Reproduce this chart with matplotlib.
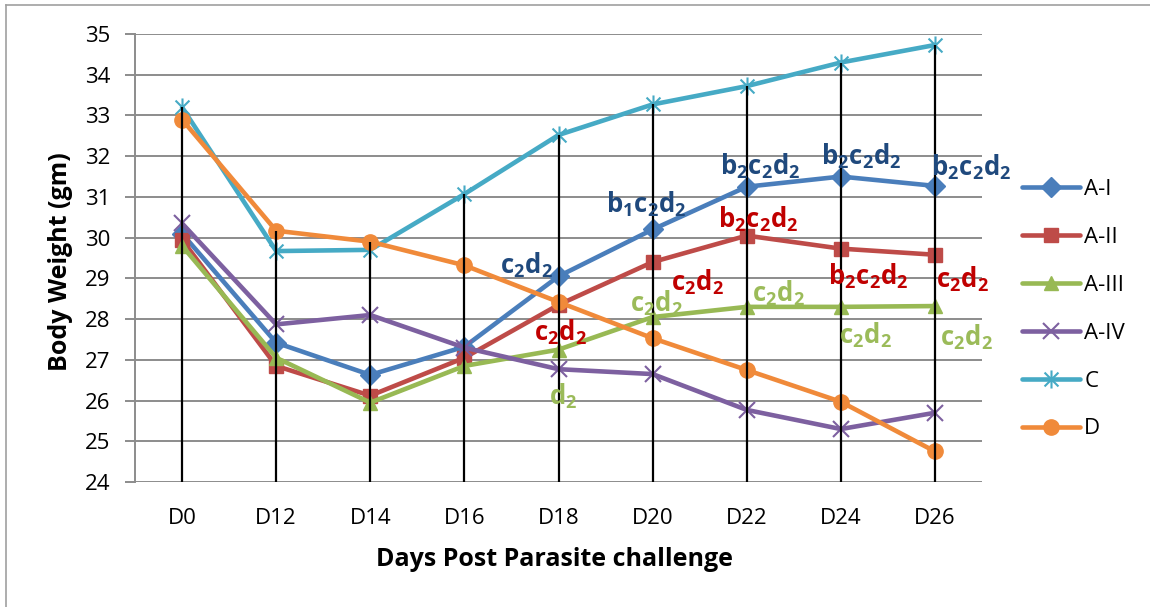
import matplotlib
matplotlib.use("Agg")
from matplotlib import pyplot as plt
from matplotlib.path import Path
from matplotlib.lines import Line2D

plt.rcParams['font.family'] = ['Open Sans', 'DejaVu Sans']
plt.rcParams['mathtext.fontset'] = 'custom'
plt.rcParams['mathtext.rm'] = 'Open Sans:bold'
plt.rcParams['mathtext.bf'] = 'Open Sans:bold'
plt.rcParams['mathtext.it'] = 'Open Sans:bold'

days = ['D0', 'D12', 'D14', 'D16', 'D18', 'D20', 'D22', 'D24', 'D26']

a1 = [30.10, 27.42, 26.63, 27.32, 29.05, 30.20, 31.25, 31.50, 31.27]
a2 = [29.95, 26.85, 26.12, 27.05, 28.35, 29.40, 30.05, 29.73, 29.58]
a3 = [29.80, 27.05, 25.95, 26.85, 27.25, 28.05, 28.30, 28.30, 28.32]
a4 = [30.35, 27.87, 28.10, 27.30, 26.77, 26.65, 25.77, 25.30, 25.70]
c = [33.20, 29.67, 29.70, 31.07, 32.52, 33.27, 33.72, 34.30, 34.73]
d = [32.90, 30.17, 29.90, 29.32, 28.42, 27.53, 26.75, 25.97, 24.75]

names = ['A-I', 'A-II', 'A-III', 'A-IV', 'C', 'D']
series = [a1, a2, a3, a4, c, d]

# significance letters: (day index, text)
marks_blue = [(4, 'c_2d_2'), (5, 'b_1c_2d_2'), (6, 'b_2c_2d_2'), (7, 'b_2c_2d_2'), (8, 'b_2c_2d_2')]
marks_red = [(4, 'c_2d_2'), (5, 'c_2d_2'), (6, 'b_2c_2d_2'), (7, 'b_2c_2d_2'), (8, 'c_2d_2')]
marks_green = [(4, 'd_2'), (5, 'c_2d_2'), (6, 'c_2d_2'), (7, 'c_2d_2'), (8, 'c_2d_2')]

# offsets in pixels for the labels
off_blue = [(-32, 11), (-6, 25), (13, 20), (20, 20), (36, 19)]
off_red = [(2, -27), (45, -20), (11, 16), (27, -28), (27, -25)]
off_green = [(5, -47), (4, 14), (32, 14), (25, -28), (31, -31)]

colors = ['#4A7EBB', '#BE4B48', '#98B954', '#7D60A0', '#46AAC5', '#F08A3A']

# excel style star marker: x plus vertical bar
star = Path([(-1, -1), (1, 1), (-1, 1), (1, -1), (0, -1.3), (0, 1.3)],
            [Path.MOVETO, Path.LINETO, Path.MOVETO, Path.LINETO, Path.MOVETO, Path.LINETO])
markers = ['D', 's', '^', 'x', star, 'o']
msizes = [10, 9.5, 10, 11, 13, 11]

fig = plt.figure(figsize=(11.5, 6.07), dpi=100)
ax = fig.add_axes([135 / 1150, 1 - 482 / 607, (982 - 135) / 1150, (482 - 34) / 607])

x = list(range(len(days)))
for i in range(len(series)):
    ax.plot(x, series[i], color=colors[i], lw=3.3, marker=markers[i],
            markersize=msizes[i], markeredgewidth=1.5 if i in (3, 4) else 1,
            markeredgecolor=colors[i], markerfacecolor=colors[i], label=names[i],
            zorder=3 + i, solid_capstyle='round')

# drop lines from the highest point down to the axis
tops = [max(s[k] for s in series) for k in x]
ax.vlines(x, 24, tops, colors='black', lw=1.6, zorder=10)

ax.set_xlim(-0.5, 8.5)
ax.set_ylim(24, 35)
ax.set_yticks(range(24, 36))
ax.set_xticks(x)
ax.set_xticklabels(days)
ax.grid(axis='y', color='#8C8C8C', lw=1.4, zorder=0)
ax.set_axisbelow(True)
for sp in ['top', 'right', 'bottom']:
    ax.spines[sp].set_visible(False)
ax.spines['left'].set_color('#8C8C8C')
ax.spines['left'].set_linewidth(1.4)
ax.tick_params(axis='y', length=7, width=1.4, color='#8C8C8C', labelsize=16, pad=11)
ax.tick_params(axis='x', length=0, labelsize=16, pad=19)

ax.set_ylabel('Body Weight (gm)', fontsize=18, fontweight='bold', va='center')
ax.yaxis.set_label_coords(-0.0874, 0.493)
ax.set_xlabel('Days Post Parasite challenge', fontsize=18, fontweight='bold', va='center')
ax.xaxis.set_label_coords(0.495, -0.174)

groups = [(a1, marks_blue, off_blue, '#1F497D'),
          (a2, marks_red, off_red, '#C00000'),
          (a3, marks_green, off_green, '#9BBB59')]
for vals, marks, offs, col in groups:
    for (k, txt), (dx, dy) in zip(marks, offs):
        ax.annotate(r'$\mathbf{' + txt + '}$', (k, vals[k]), xytext=(dx, dy),
                    textcoords='offset pixels', ha='center', va='center',
                    fontsize=18.5, color=col, zorder=20)

fig.legend(loc='upper left', bbox_to_anchor=(1022 / 1150, 1 - 179 / 607),
           frameon=False, fontsize=16, handlelength=2.6, handletextpad=0.2,
           labelspacing=1.21, borderpad=0, borderaxespad=0)

# outer chart border
fig.add_artist(Line2D([6 / 1150, 6 / 1150], [0, 1 - 5 / 607], color='#A0A0A0', lw=1.2))
fig.add_artist(Line2D([6 / 1150, 1], [1 - 5 / 607, 1 - 5 / 607], color='#A0A0A0', lw=1.2))

fig.savefig('out.png', dpi=100)
